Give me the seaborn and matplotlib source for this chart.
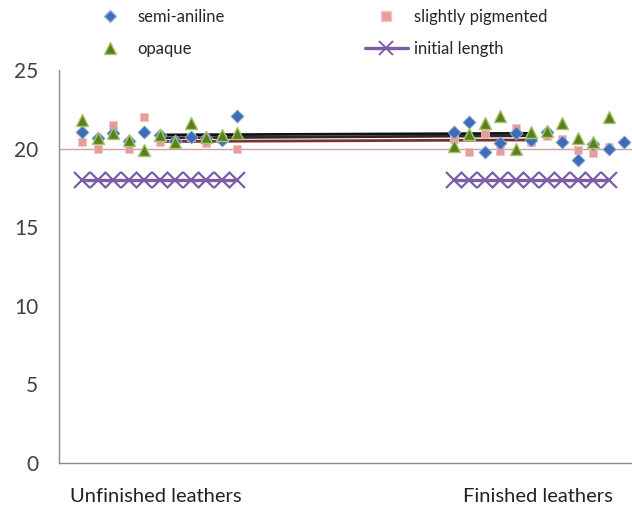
import numpy as np
import pandas as pd
import matplotlib
matplotlib.use("Agg")
import matplotlib.pyplot as plt
from matplotlib.lines import Line2D
import seaborn as sns

# ---------------- data ----------------
unf_cats = list(range(1, 12))
fin_cats = list(range(25, 36))
semi_fin_cats = list(range(25, 37))

semi_unf = [21.05, 20.7, 21.0, 20.5, 21.05, 20.85, 20.5, 20.75, 20.7, 20.55, 22.05]
semi_fin = [21.05, 21.7, 19.8, 20.35, 21.0, 20.55, 21.05, 20.4, 19.3, 20.3, 20.0, 20.45]
pink_unf = [20.45, 19.95, 21.5, 19.95, 22.0, 20.4, 20.45, 20.75, 20.35, 20.6, 19.95]
pink_fin = [20.6, 19.8, 20.9, 19.85, 21.3, 20.45, 20.8, 20.6, 19.9, 19.7, 20.1]
opaq_unf = [21.8, 20.7, 21.0, 20.55, 19.9, 20.85, 20.45, 21.6, 20.75, 20.85, 21.0]
opaq_fin = [20.15, 20.9, 21.6, 22.1, 20.0, 21.05, 21.1, 21.6, 20.7, 20.45, 22.0]
initial_unf = [18] * 11
initial_fin = [18] * 11

# connector lines between group centres (unfinished centre -> finished centre)
conn_cats = [6, 30]
conn_semi = [20.87, 20.97]
conn_opaq = [20.68, 20.82]
conn_pink = [20.45, 20.55]
ref_level = 20.0

group_labels = ["Unfinished leathers", "Finished leathers"]
y_ticks = [0, 5, 10, 15, 20, 25]

# ---------------- style ----------------
sns.set_theme(style="white")
plt.rcParams["font.family"] = ["Lato", "DejaVu Sans"]

c_semi = "#3E6DB5"
c_pink = "#E89C9C"
c_opaq = "#5B7F1F"
c_opaq_edge = "#A7C86A"
c_init = "#7B5EA7"

fig = plt.figure(figsize=(6.32, 5.08), dpi=100)
ax = fig.add_axes([59 / 632, (508 - 463) / 508, (632 - 59) / 632, (463 - 70) / 508])

# reference line across full width
ax.axhline(ref_level, color="#C9A3A3", lw=1.0, zorder=1)

# connector lines
df_conn = pd.DataFrame({"x": conn_cats * 3,
                        "y": conn_semi + conn_opaq + conn_pink,
                        "s": ["semi"] * 2 + ["opaq"] * 2 + ["pink"] * 2})
sns.lineplot(data=df_conn, x="x", y="y", hue="s",
             palette={"semi": "#111111", "opaq": "#2a2a2a", "pink": "#7A3030"},
             lw=2.0, legend=False, ax=ax, zorder=2)

# initial length lines
for cats, vals in [(unf_cats, initial_unf), (fin_cats, initial_fin)]:
    sns.lineplot(x=cats, y=vals, color=c_init, lw=2.4, marker="x",
                 markersize=12, markeredgewidth=1.6, markeredgecolor=c_init,
                 ax=ax, zorder=3, legend=False)

# scatter series
sns.scatterplot(x=unf_cats + fin_cats, y=pink_unf + pink_fin, marker="s",
                s=40, color=c_pink, edgecolor="#F2C4C4", linewidth=0.6,
                ax=ax, zorder=4, legend=False)
sns.scatterplot(x=unf_cats + semi_fin_cats, y=semi_unf + semi_fin, marker="D",
                s=44, color=c_semi, edgecolor="#8FB0DD", linewidth=0.6,
                ax=ax, zorder=5, legend=False, clip_on=False)
sns.scatterplot(x=unf_cats + fin_cats, y=opaq_unf + opaq_fin, marker="^",
                s=75, color=c_opaq, edgecolor=c_opaq_edge, linewidth=1.0,
                ax=ax, zorder=6, legend=False)

# ---------------- axes ----------------
ax.set_xlim(-0.5, 36.3)
ax.set_ylim(0, 25)
ax.set_yticks(y_ticks)
ax.set_yticklabels([str(v) for v in y_ticks], fontsize=15, color="#404040")
ax.set_xticks(np.arange(-0.5, 36.6, 1))
ax.set_xticklabels([])
ax.set_xlabel("")
ax.set_ylabel("")
for side in ["top", "right"]:
    ax.spines[side].set_visible(False)
for side in ["left", "bottom"]:
    ax.spines[side].set_color("#8C8C8C")
    ax.spines[side].set_linewidth(1.0)
ax.tick_params(axis="both", direction="out", length=5, width=1,
               color="#8C8C8C")
ax.tick_params(axis="y", pad=10)
ax.grid(False)

# group labels
fig.text(156 / 632, 1 - 497 / 508, group_labels[0], ha="center", va="center",
         fontsize=14.5, color="#222222")
fig.text(538 / 632, 1 - 497 / 508, group_labels[1], ha="center", va="center",
         fontsize=14.5, color="#222222")

# legend
handles = [
    Line2D([], [], ls="none", marker="D", ms=6.5, color=c_semi, mec="#8FB0DD"),
    Line2D([], [], ls="none", marker="^", ms=8.5, color=c_opaq, mec=c_opaq_edge),
    Line2D([], [], ls="none", marker="s", ms=6.5, color=c_pink, mec="#F2C4C4"),
    Line2D([], [], color=c_init, lw=2.4, marker="x", ms=10, mew=1.4),
]
labels = ["semi-aniline", "opaque", "slightly pigmented", "initial length"]
fig.legend(handles, labels, ncol=2, loc="upper left",
           bbox_to_anchor=(88 / 632, 1 - 9 / 508), frameon=False,
           fontsize=12, handlelength=2.6, handletextpad=0.35,
           columnspacing=8.4, labelspacing=0.95, borderpad=0,
           borderaxespad=0)

fig.savefig("out.png", dpi=100)
